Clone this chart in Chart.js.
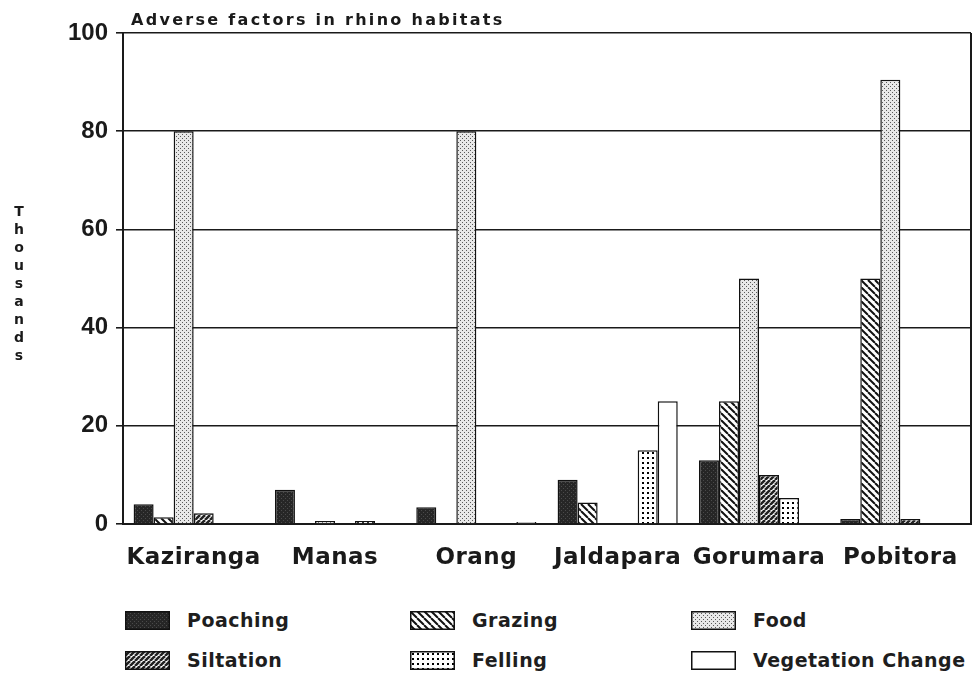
<!DOCTYPE html>
<html>
<head>
<meta charset="utf-8">
<script src="https://cdn.jsdelivr.net/npm/chart.js@4/dist/chart.umd.min.js"></script>
<style>
body { margin: 0; background: #fff; }
#wrap { position: relative; width: 978px; height: 679px; }
#box { position: absolute; left: 0; top: 0; width: 978px; height: 580px; }
.leg { position: absolute; height: 19px; font: bold 19px "DejaVu Sans", sans-serif; letter-spacing: 0.5px; color: #1e1e1e; white-space: nowrap; }
.leg canvas { position: absolute; left: 0; top: 0; }
.leg span { position: absolute; left: 62px; top: -2px; line-height: 23px; }
</style>
</head>
<body>
<div id="wrap">
  <div id="box"><canvas id="rhinoChart"></canvas></div>
  <div id="legend"></div>
</div>
<script>
// Chart data (thousands)
var categories = ['Kaziranga', 'Manas', 'Orang', 'Jaldapara', 'Gorumara', 'Pobitora'];
var poaching  = [4, 7, 3.4, 9, 13, 1];
var grazing   = [1.4, 0, 0, 4.4, 25, 50];
var food      = [80, 0.6, 80, 0, 50, 90.5];
var siltation = [2.2, 0, 0, 0, 10, 1];
var felling   = [0, 0.6, 0, 15, 5.3, 0];
var vegChange = [0, 0, 0.4, 25, 0, 0];
var yTicks    = [0, 20, 40, 60, 80, 100];
var chartTitle = 'Adverse factors in rhino habitats';
var yTitle = 'Thousands';

var FONT = '"Liberation Sans", Arial, sans-serif';
var WIDE = '"DejaVu Sans", sans-serif';

// Hatch / dot fills, drawn into a small tile
function tile(size, draw) {
    var c = document.createElement('canvas');
    c.width = size; c.height = size;
    var p = c.getContext('2d');
    p.fillStyle = '#fff';
    p.fillRect(0, 0, size, size);
    draw(p, size);
    return c;
}

var fills = {
    poaching: tile(4, function (p) {
        p.fillStyle = '#262626'; p.fillRect(0, 0, 4, 4);
        p.fillStyle = '#4a4a4a'; p.fillRect(1, 2, 1, 1); p.fillRect(3, 0, 1, 1);
    }),
    grazing: tile(7, function (p, s) {
        p.strokeStyle = '#111'; p.lineWidth = 2;
        for (var k = -1; k <= 1; k++) {
            p.beginPath(); p.moveTo(k * s, 0); p.lineTo(k * s + s, s); p.stroke();
        }
    }),
    food: tile(4, function (p) {
        p.fillStyle = '#e8e8e8'; p.fillRect(0, 0, 4, 4);
        p.fillStyle = '#5a5a5a'; p.fillRect(0, 0, 1, 1); p.fillRect(2, 2, 1, 1);
    }),
    siltation: tile(5, function (p, s) {
        p.strokeStyle = '#222'; p.lineWidth = 2.6;
        for (var k = -1; k <= 1; k++) {
            p.beginPath(); p.moveTo(k * s, s); p.lineTo(k * s + s, 0); p.stroke();
        }
    }),
    felling: tile(5, function (p) {
        p.fillStyle = '#000'; p.fillRect(2, 2, 2, 2);
    }),
    vegChange: tile(4, function () {})
};

var ctx = document.getElementById('rhinoChart').getContext('2d');
function pat(name) { return ctx.createPattern(fills[name], 'repeat'); }

var series = [
    { label: 'Poaching', data: poaching, key: 'poaching' },
    { label: 'Grazing', data: grazing, key: 'grazing' },
    { label: 'Food', data: food, key: 'food' },
    { label: 'Siltation', data: siltation, key: 'siltation' },
    { label: 'Felling', data: felling, key: 'felling' },
    { label: 'Vegetation Change', data: vegChange, key: 'vegChange' }
];

// Title, vertical axis caption and right frame line
var decorations = {
    id: 'decorations',
    beforeDraw: function (chart) {
        chart.ctx.letterSpacing = '0px';
    },
    afterDatasetsDraw: function (chart) {
        // x category labels (ticks.z = 1) are drawn after this
        chart.ctx.letterSpacing = '0.5px';
    },
    afterDraw: function (chart) {
        var c = chart.ctx, a = chart.chartArea;
        c.save();
        c.strokeStyle = '#1a1a1a';
        c.lineWidth = 2;
        c.beginPath(); c.moveTo(a.right, a.top); c.lineTo(a.right, a.bottom); c.stroke();

        c.fillStyle = '#1a1a1a';
        c.letterSpacing = '2.3px';
        c.font = 'bold 16px ' + WIDE;
        c.textAlign = 'left';
        c.textBaseline = 'alphabetic';
        c.fillText(chartTitle, 131, 25);

        c.letterSpacing = '0px';
        c.font = 'bold 14px ' + WIDE;
        c.textAlign = 'center';
        c.textBaseline = 'middle';
        for (var i = 0; i < yTitle.length; i++) {
            c.fillText(yTitle[i], 19, 212 + i * 18);
        }
        c.restore();
    }
};

var chart = new Chart(ctx, {
    type: 'bar',
    data: {
        labels: categories,
        datasets: series.map(function (s) {
            return {
                label: s.label,
                data: s.data,
                backgroundColor: pat(s.key),
                borderColor: '#111',
                borderWidth: 1.5,
                borderSkipped: 'bottom'
            };
        })
    },
    options: {
        responsive: true,
        maintainAspectRatio: false,
        animation: false,
        layout: { padding: { top: 33, right: 7, left: 0, bottom: 0 } },
        plugins: {
            legend: { display: false },
            title: { display: false },
            tooltip: { enabled: false }
        },
        datasets: {
            bar: { categoryPercentage: 0.85, barPercentage: 1 }
        },
        scales: {
            x: {
                grid: { display: false },
                border: { display: true, color: '#1a1a1a', width: 2 },
                ticks: {
                    z: 1,
                    color: '#1a1a1a',
                    padding: 12,
                    maxRotation: 0,
                    font: { family: WIDE, size: 23, weight: 'bold' }
                },
                afterFit: function (scale) { scale.height = 56; }
            },
            y: {
                min: 0,
                max: 100,
                afterBuildTicks: function (scale) {
                    scale.ticks = yTicks.map(function (v) { return { value: v }; });
                },
                grid: { color: '#1a1a1a', lineWidth: 1.6, tickLength: 7 },
                border: { display: true, color: '#1a1a1a', width: 2 },
                ticks: {
                    color: '#1a1a1a',
                    padding: 8,
                    font: { family: FONT, size: 24, weight: 'bold' }
                },
                afterFit: function (scale) { scale.width = 123; }
            }
        }
    },
    plugins: [decorations]
});

// Legend in three columns, two rows, as in the figure
var legendPos = [
    [125, 611], [410, 611], [691, 611],
    [125, 651], [410, 651], [691, 651]
];
var legendEl = document.getElementById('legend');
series.forEach(function (s, n) {
    var item = document.createElement('div');
    item.className = 'leg';
    item.style.left = legendPos[n][0] + 'px';
    item.style.top = legendPos[n][1] + 'px';
    var sw = document.createElement('canvas');
    sw.width = 45; sw.height = 19;
    var sc = sw.getContext('2d');
    sc.fillStyle = sc.createPattern(fills[s.key], 'repeat');
    sc.fillRect(0, 0, 45, 19);
    sc.strokeStyle = '#111';
    sc.lineWidth = 1.5;
    sc.strokeRect(0.75, 0.75, 43.5, 17.5);
    var txt = document.createElement('span');
    txt.textContent = s.label;
    item.appendChild(sw);
    item.appendChild(txt);
    legendEl.appendChild(item);
});
</script>
</body>
</html>
